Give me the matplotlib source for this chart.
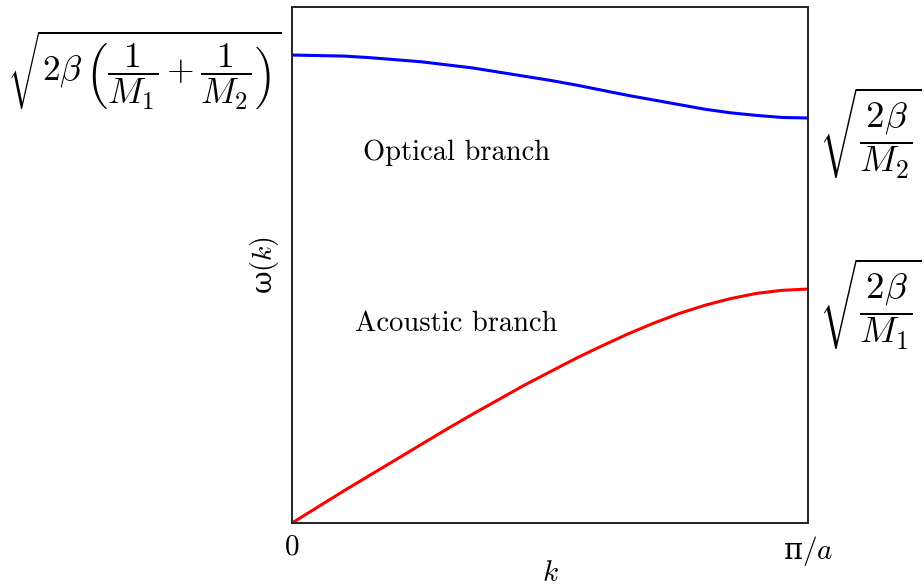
import matplotlib
matplotlib.use('Agg')
import matplotlib.pyplot as plt

plt.rcParams['font.family'] = ['cmr10', 'DejaVu Serif']
plt.rcParams['mathtext.fontset'] = 'cm'
plt.rcParams['axes.formatter.use_mathtext'] = True

# wave number as a fraction of pi/a
k = [0.0, 0.05, 0.1, 0.15, 0.2, 0.25, 0.3, 0.35, 0.4, 0.45, 0.5,
     0.55, 0.6, 0.65, 0.7, 0.75, 0.8, 0.85, 0.9, 0.95, 1.0]
# frequency of the two branches (same arbitrary units)
optical = [0.907, 0.906, 0.905, 0.902, 0.898, 0.894, 0.888, 0.882, 0.874, 0.866, 0.858,
           0.849, 0.839, 0.829, 0.820, 0.811, 0.802, 0.795, 0.790, 0.786, 0.785]
acoustic = [0.0, 0.031, 0.062, 0.092, 0.122, 0.152, 0.182, 0.211, 0.239, 0.267, 0.293,
            0.319, 0.343, 0.366, 0.387, 0.406, 0.422, 0.435, 0.445, 0.451, 0.4535]

x_ticks = [0, 1]
x_ticklabels = ['$0$', 'π$/a$']
left_ticks = [0.907]
left_ticklabels = [r'$\sqrt{2\beta\,\left(\dfrac{1}{M_1}+\dfrac{1}{M_2}\right)}$']
right_ticks = [0.785, 0.4535]
right_ticklabels = [r'$\sqrt{\dfrac{2\beta}{M_2}}$', r'$\sqrt{\dfrac{2\beta}{M_1}}$']

fig = plt.figure(figsize=(9.24, 5.88), dpi=100)
ax = fig.add_axes([0.316, 0.1105, 0.5585, 0.8775])

ax.plot(k, optical, color='blue', lw=2.2)
ax.plot(k, acoustic, color='red', lw=2.2)

ax.text(0.318, 0.717, 'Optical branch', fontsize=20.5, ha='center', va='center')
ax.text(0.318, 0.386, 'Acoustic branch', fontsize=20.5, ha='center', va='center')

ax.set_xlim(0, 1)
ax.set_ylim(0, 1)
ax.set_xticks(x_ticks)
ax.set_xticklabels(x_ticklabels, fontsize=21)
ax.get_xticklabels()[1].set_family('DejaVu Serif')
ax.set_yticks(left_ticks)
ax.set_yticklabels(left_ticklabels, fontsize=25.5)
ax.tick_params(length=0, pad=8)

ax.set_xlabel('$k$', fontsize=21)
ax.xaxis.set_label_coords(0.5, -0.072)
ax.set_ylabel('ω$(k)$', fontsize=20, family='DejaVu Serif')
ax.yaxis.set_label_coords(-0.022, 0.5)

ax2 = ax.twinx()
ax2.set_ylim(0, 1)
ax2.set_yticks(right_ticks)
ax2.set_yticklabels(right_ticklabels, fontsize=26.5)
ax2.tick_params(length=0, pad=8)

for a in (ax, ax2):
    for s in a.spines.values():
        s.set_linewidth(1.2)
        s.set_color('#222222')

fig.savefig('out.png', dpi=100)
